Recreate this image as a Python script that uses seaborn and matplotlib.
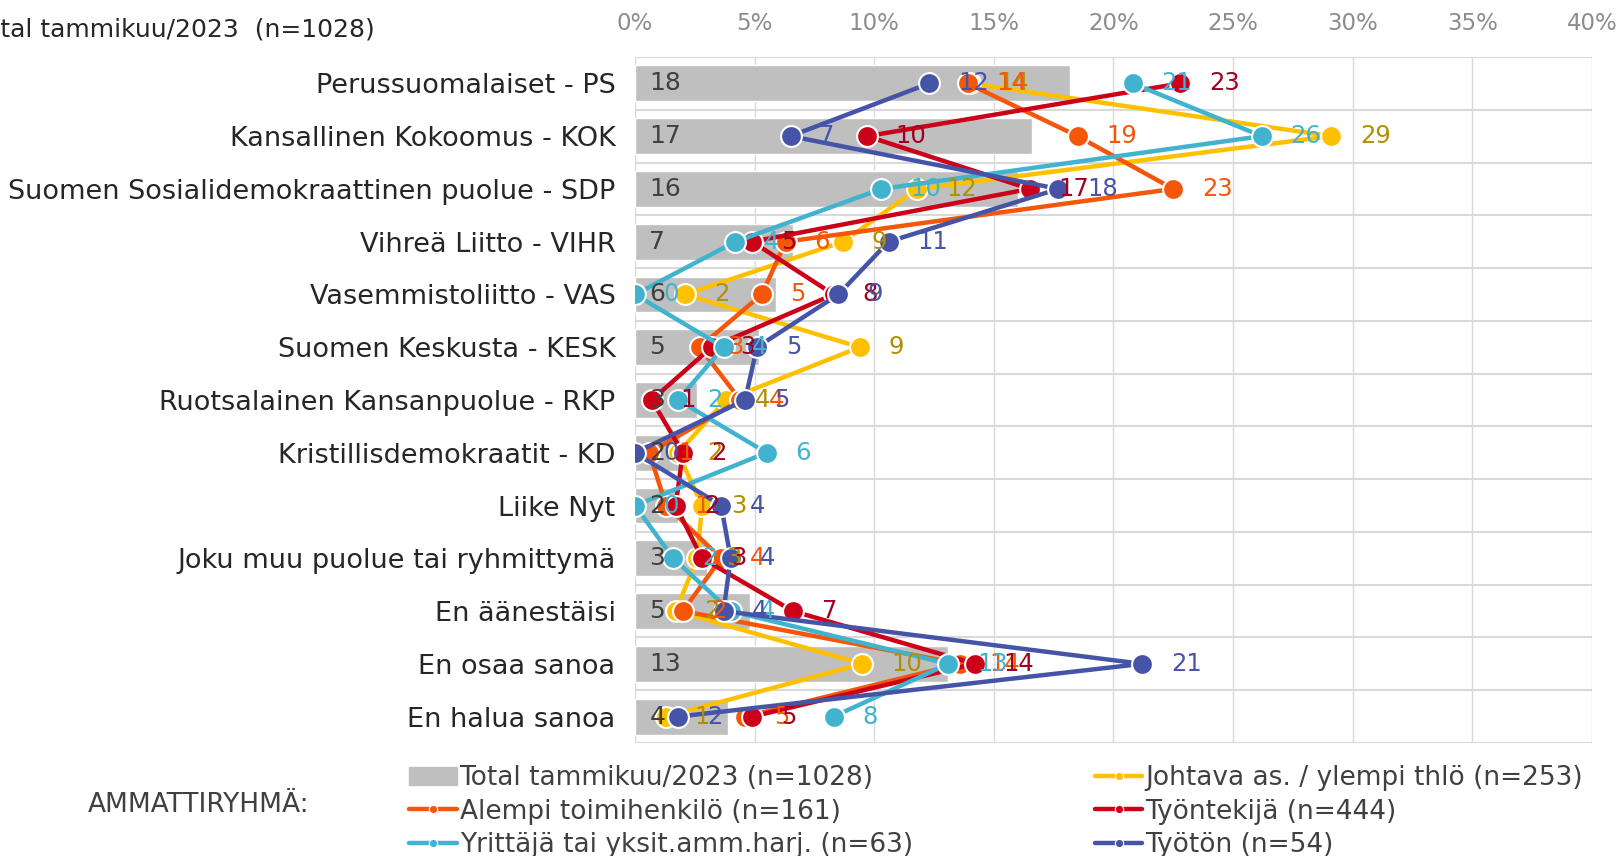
import numpy as np
import pandas as pd
import matplotlib
matplotlib.use("Agg")
import matplotlib.pyplot as plt
import seaborn as sns
from matplotlib.lines import Line2D
from matplotlib.patches import Patch

categories = ["Perussuomalaiset - PS", "Kansallinen Kokoomus - KOK",
              "Suomen Sosialidemokraattinen puolue - SDP", "Vihreä Liitto - VIHR",
              "Vasemmistoliitto - VAS", "Suomen Keskusta - KESK",
              "Ruotsalainen Kansanpuolue - RKP", "Kristillisdemokraatit - KD",
              "Liike Nyt", "Joku muu puolue tai ryhmittymä", "En äänestäisi",
              "En osaa sanoa", "En halua sanoa"]

total = [18.2, 16.6, 16.0, 6.6, 5.9, 5.2, 2.6, 1.9, 1.8, 3.0, 4.8, 13.1, 3.9]
johtava = [14.0, 29.1, 11.8, 8.7, 2.1, 9.4, 3.8, 1.8, 2.8, 2.6, 1.7, 9.5, 1.3]
alempi = [13.9, 18.5, 22.5, 6.3, 5.3, 2.7, 4.4, 0.6, 1.3, 3.6, 2.0, 13.6, 4.6]
tyontekija = [22.8, 9.7, 16.5, 4.9, 8.3, 3.2, 0.7, 2.0, 1.7, 2.8, 6.6, 14.2, 4.9]
yrittaja = [20.8, 26.2, 10.3, 4.2, 0.0, 3.7, 1.8, 5.5, 0.0, 1.6, 4.0, 13.1, 8.3]
tyoton = [12.3, 6.5, 17.7, 10.6, 8.5, 5.1, 4.6, 0.0, 3.6, 4.0, 3.7, 21.2, 1.8]

series_names = ["Johtava as. / ylempi thlö (n=253)", "Alempi toimihenkilö (n=161)",
                "Työntekijä (n=444)", "Yrittäjä tai yksit.amm.harj. (n=63)",
                "Työtön (n=54)"]
series_vals = [johtava, alempi, tyontekija, yrittaja, tyoton]
line_colors = ["#FFC000", "#F4560A", "#CC0018", "#41B3CF", "#4654A8"]
label_colors = ["#B38F00", "#F4560A", "#A00020", "#41B3CF", "#4654A8"]
total_name = "Total tammikuu/2023 (n=1028)"

sns.set_style("white")
plt.rcParams["font.family"] = ["DejaVu Sans"]

fig = plt.figure(figsize=(16.24, 8.56), dpi=100)
ax = fig.add_axes([635 / 1624, 1 - 743 / 856, 957 / 1624, 686 / 856])

df = pd.DataFrame({"party": categories, "total": total})
sns.barplot(data=df, x="total", y="party", color="#BFBFBF", width=0.68,
            saturation=1, ax=ax, zorder=2)

pos = np.arange(len(categories))
for vals, col in zip(series_vals, line_colors):
    sns.lineplot(x=vals, y=pos, sort=False, orient="y", estimator=None,
                 color=col, linewidth=3.2, marker="o", markersize=15,
                 markeredgecolor="white", markeredgewidth=1.5, ax=ax, zorder=3)

for i, v in enumerate(total):
    ax.text(0.6, i, f"{round(v):d}", ha="left", va="center",
            fontsize=18, color="#404040", zorder=5)
for vals, col in zip(series_vals, label_colors):
    for i, v in enumerate(vals):
        ax.text(v + 1.2, i, f"{int(v + 0.5):d}", ha="left", va="center",
                fontsize=17.5, color=col, zorder=5)

ax.set_xlim(0, 40)
ax.set_ylim(len(categories) - 0.5, -0.5)
ax.set_xticks(np.arange(0, 41, 5))
ax.set_xticklabels([f"{t}%" for t in range(0, 41, 5)])
ax.xaxis.tick_top()
ax.tick_params(axis="x", length=0, pad=16, labelsize=16.5, labelcolor="#8C8C8C")
ax.tick_params(axis="y", length=0, pad=14, labelsize=19.5, labelcolor="#262626")
ax.set_yticks(pos, categories, minor=False)
ax.set_yticks(np.arange(-0.5, len(categories), 1), minor=True)
ax.grid(axis="x", color="#D9D9D9", linewidth=1, zorder=0)
ax.grid(axis="y", which="minor", color="#D9D9D9", linewidth=1.5, zorder=0)
ax.grid(axis="y", which="major", visible=False)
ax.set_axisbelow(True)
for s in ax.spines.values():
    s.set_visible(False)
ax.set_xlabel("")
ax.set_ylabel("")

fig.text(375 / 1624, 1 - 29 / 856, "Total tammikuu/2023  (n=1028)", ha="right",
         va="center", fontsize=18, color="#262626")

handles = [Patch(color="#BFBFBF", label=total_name)]
for name, col in zip(series_names, line_colors):
    handles.append(Line2D([], [], color=col, linewidth=3.2, marker="o",
                          markersize=6, markeredgecolor="white",
                          markeredgewidth=0.8, label=name))
order = [0, 2, 4, 1, 3, 5]
fig.legend([handles[k] for k in order], [handles[k].get_label() for k in order],
           ncol=2, loc="lower left", bbox_to_anchor=(391 / 1624, -0.024),
           frameon=False, fontsize=19, labelcolor="#404040", handlelength=1.8,
           handletextpad=0.1, columnspacing=6.9, labelspacing=0.28,
           borderpad=0.2)
fig.text(88 / 1624, 1 - 805 / 856, "AMMATTIRYHMÄ:", ha="left", va="center",
         fontsize=19, color="#404040")

fig.savefig("out.png", dpi=100)
